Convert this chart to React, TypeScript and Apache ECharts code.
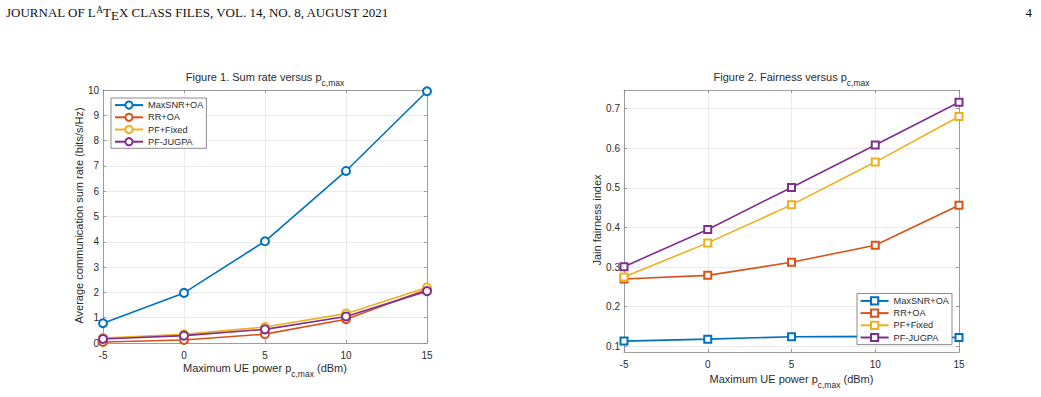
import React, { useEffect, useRef } from 'react';
import * as echarts from 'echarts';

const powers = [-5, 0, 5, 10, 15];
const schemes = ['MaxSNR+OA', 'RR+OA', 'PF+Fixed', 'PF-JUGPA'];
const colors = ['#0072BD', '#D95319', '#EDB120', '#7E2F8E'];

const sumRateMaxSNR = [0.78, 1.98, 4.02, 6.8, 9.95];
const sumRateRR = [0.04, 0.12, 0.35, 0.94, 2.11];
const sumRatePFFixed = [0.2, 0.34, 0.63, 1.16, 2.19];
const sumRatePFJUGPA = [0.16, 0.29, 0.54, 1.05, 2.05];

const fairMaxSNR = [0.113, 0.118, 0.124, 0.125, 0.122];
const fairRR = [0.27, 0.279, 0.312, 0.355, 0.456];
const fairPFFixed = [0.275, 0.361, 0.457, 0.565, 0.68];
const fairPFJUGPA = [0.301, 0.395, 0.501, 0.608, 0.716];

const fairTicks = [0.1, 0.2, 0.3, 0.4, 0.5, 0.6, 0.7];

const FONT = 'Liberation Sans, Arial, Helvetica, sans-serif';
const SERIF = 'Liberation Serif, Times New Roman, serif';
const AXIS_COLOR = '#888888';
const GRID_COLOR = '#e6e6e6';
const TEXT_COLOR = '#2b2b2b';

let measureCtx: CanvasRenderingContext2D | null = null;
function measure(text: string, size: number, family: string) {
  if (!measureCtx) measureCtx = document.createElement('canvas').getContext('2d');
  if (!measureCtx) return text.length * size * 0.55;
  measureCtx.font = `${size}px ${family}`;
  return measureCtx.measureText(text).width;
}

function xAxis(gridIndex: number, position: string, main: boolean) {
  return {
    type: 'value', gridIndex, position, min: -5, max: 15, interval: 5,
    axisLine: { show: true, onZero: false, lineStyle: { color: AXIS_COLOR, width: 0.8 } },
    axisTick: { show: true, inside: true, length: 3, lineStyle: { color: AXIS_COLOR, width: 0.8 } },
    axisLabel: { show: main, margin: 7, color: TEXT_COLOR, fontSize: 10, fontFamily: FONT },
    splitLine: { show: main, lineStyle: { color: GRID_COLOR, width: 0.8 } },
  };
}

function yAxisSum(position: string, main: boolean) {
  return {
    type: 'value', gridIndex: 0, position, min: 0, max: 10, interval: 1,
    axisLine: { show: true, onZero: false, lineStyle: { color: AXIS_COLOR, width: 0.8 } },
    axisTick: { show: true, inside: true, length: 3, lineStyle: { color: AXIS_COLOR, width: 0.8 } },
    axisLabel: { show: main, margin: 4, color: TEXT_COLOR, fontSize: 10, fontFamily: FONT },
    splitLine: { show: main, lineStyle: { color: GRID_COLOR, width: 0.8 } },
  };
}

function yAxisFair(position: string, main: boolean) {
  return {
    type: 'value', gridIndex: 1, position, min: 0.0855, max: 0.747,
    axisLine: { show: true, onZero: false, lineStyle: { color: AXIS_COLOR, width: 0.8 } },
    axisTick: { show: true, inside: true, length: 3, customValues: fairTicks, lineStyle: { color: AXIS_COLOR, width: 0.8 } },
    axisLabel: {
      show: main, margin: 4, color: TEXT_COLOR, fontSize: 10, fontFamily: FONT,
      customValues: fairTicks, formatter: (v: number) => v.toFixed(1),
    },
    splitLine: { show: main, lineStyle: { color: GRID_COLOR, width: 0.8 } },
  };
}

function pts(vals: number[]) {
  return powers.map((p, i) => [p, vals[i]]);
}

function lineSeries(name: string, color: string, vals: number[], grid: number, symbol: string, size: number) {
  return {
    type: 'line', name, xAxisIndex: grid * 2, yAxisIndex: grid * 2,
    data: pts(vals), color,
    symbol, symbolSize: size,
    lineStyle: { color, width: 1.6 },
    itemStyle: { color, borderColor: color, borderWidth: 1.4 },
    emphasis: { disabled: true },
  };
}

// Text with a subscript: parts alternate main / sub. Centered at cx; main text centre at cy.
function subText(cx: number, cy: number, parts: { t: string; sub?: boolean }[]) {
  const mainSize = 11;
  const subSize = 8.5;
  const widths = parts.map((p) => measure(p.t, p.sub ? subSize : mainSize, FONT));
  const total = widths.reduce((a, b) => a + b, 0);
  let x = cx - total / 2;
  const children: any[] = [];
  parts.forEach((p, i) => {
    children.push({
      type: 'text', x, y: p.sub ? cy + 6 : cy,
      style: {
        text: p.t, fontSize: p.sub ? subSize : mainSize, fontFamily: FONT,
        fill: TEXT_COLOR, align: 'left', verticalAlign: 'middle',
      },
    });
    x += widths[i];
  });
  return { type: 'group', children };
}

function yName(x: number, y: number, text: string) {
  return {
    type: 'text', x, y, rotation: Math.PI / 2,
    style: { text, fontSize: 11, fontFamily: FONT, fill: TEXT_COLOR, align: 'center', verticalAlign: 'middle' },
  };
}

function header() {
  const size = 13;
  const p1 = 'JOURNAL OF L';
  const p2 = 'A';
  const p3 = 'T';
  const p4 = 'E';
  const p5 = 'X CLASS FILES, VOL. 14, NO. 8, AUGUST 2021';
  const w1 = measure(p1, size, SERIF);
  const w2 = measure(p2, size * 0.72, SERIF);
  const w3 = measure(p3, size, SERIF);
  const w4 = measure(p4, size, SERIF);
  const y = 12;
  let x = 6;
  const els: any[] = [];
  const add = (t: string, s: number, dy: number, w: number) => {
    els.push({
      type: 'text', x, y: y + dy,
      style: { text: t, fontSize: s, fontFamily: SERIF, fill: '#111', align: 'left', verticalAlign: 'middle' },
    });
    x += w;
  };
  add(p1, size, 0, w1);
  add(p2, size * 0.72, -2.5, w2);
  add(p3, size, 0, w3);
  add(p4, size, 3, w4);
  add(p5, size, 0, 0);
  return { type: 'group', children: els };
}

export default function App() {
  const ref = useRef<HTMLDivElement>(null);
  useEffect(() => {
    if (!ref.current) return;
    const chart = echarts.init(ref.current, null, { renderer: 'svg' });
    const names2 = schemes.map((s) => s + ' ');
    const legendCommon = {
      orient: 'vertical', itemWidth: 28, itemHeight: 9, itemGap: 3,
      backgroundColor: '#ffffff', borderColor: '#6e6e6e', borderWidth: 0.8,
      selectedMode: false, align: 'left',
      textStyle: { fontSize: 9.2, fontFamily: FONT, color: TEXT_COLOR, lineHeight: 9 },
    };
    chart.setOption({
      animation: false,
      backgroundColor: '#ffffff',
      grid: [
        { left: 103, top: 90, width: 324, height: 253 },
        { left: 624, top: 90, width: 335, height: 262 },
      ],
      xAxis: [xAxis(0, 'bottom', true), xAxis(0, 'top', false), xAxis(1, 'bottom', true), xAxis(1, 'top', false)],
      yAxis: [yAxisSum('left', true), yAxisSum('right', false), yAxisFair('left', true), yAxisFair('right', false)],
      legend: [
        { ...legendCommon, left: 111, top: 98, padding: [2.5, 3, 2, 3], data: schemes },
        { ...legendCommon, left: 857, top: 293.5, padding: [2.8, 3, 2.5, 2.6], data: names2, formatter: (n: string) => n.trim() },
      ],
      series: [
        lineSeries(schemes[0], colors[0], sumRateMaxSNR, 0, 'emptyCircle', 8),
        lineSeries(schemes[1], colors[1], sumRateRR, 0, 'emptyCircle', 8),
        lineSeries(schemes[2], colors[2], sumRatePFFixed, 0, 'emptyCircle', 8),
        lineSeries(schemes[3], colors[3], sumRatePFJUGPA, 0, 'emptyCircle', 8),
        lineSeries(names2[0], colors[0], fairMaxSNR, 1, 'emptyRect', 7),
        lineSeries(names2[1], colors[1], fairRR, 1, 'emptyRect', 7),
        lineSeries(names2[2], colors[2], fairPFFixed, 1, 'emptyRect', 7),
        lineSeries(names2[3], colors[3], fairPFJUGPA, 1, 'emptyRect', 7),
      ],
      graphic: [
        header(),
        {
          type: 'text', x: 1032, y: 12,
          style: { text: '4', fontSize: 13, fontFamily: SERIF, fill: '#111', align: 'right', verticalAlign: 'middle' },
        },
        subText(265, 77, [{ t: 'Figure 1. Sum rate versus p' }, { t: 'c,max', sub: true }]),
        subText(791.5, 77, [{ t: 'Figure 2. Fairness versus p' }, { t: 'c,max', sub: true }]),
        subText(265, 368, [{ t: 'Maximum UE power p' }, { t: 'c,max', sub: true }, { t: ' (dBm)' }]),
        subText(791.5, 379, [{ t: 'Maximum UE power p' }, { t: 'c,max', sub: true }, { t: ' (dBm)' }]),
        yName(79, 215.5, 'Average communication sum rate (bits/s/Hz)'),
        yName(597, 220, 'Jain fairness index'),
      ],
    });
    return () => chart.dispose();
  }, []);
  return (
    <div
      ref={ref}
      style={{ position: 'absolute', left: 0, top: 0, width: 1041, height: 397, background: '#fff' }}
    />
  );
}
